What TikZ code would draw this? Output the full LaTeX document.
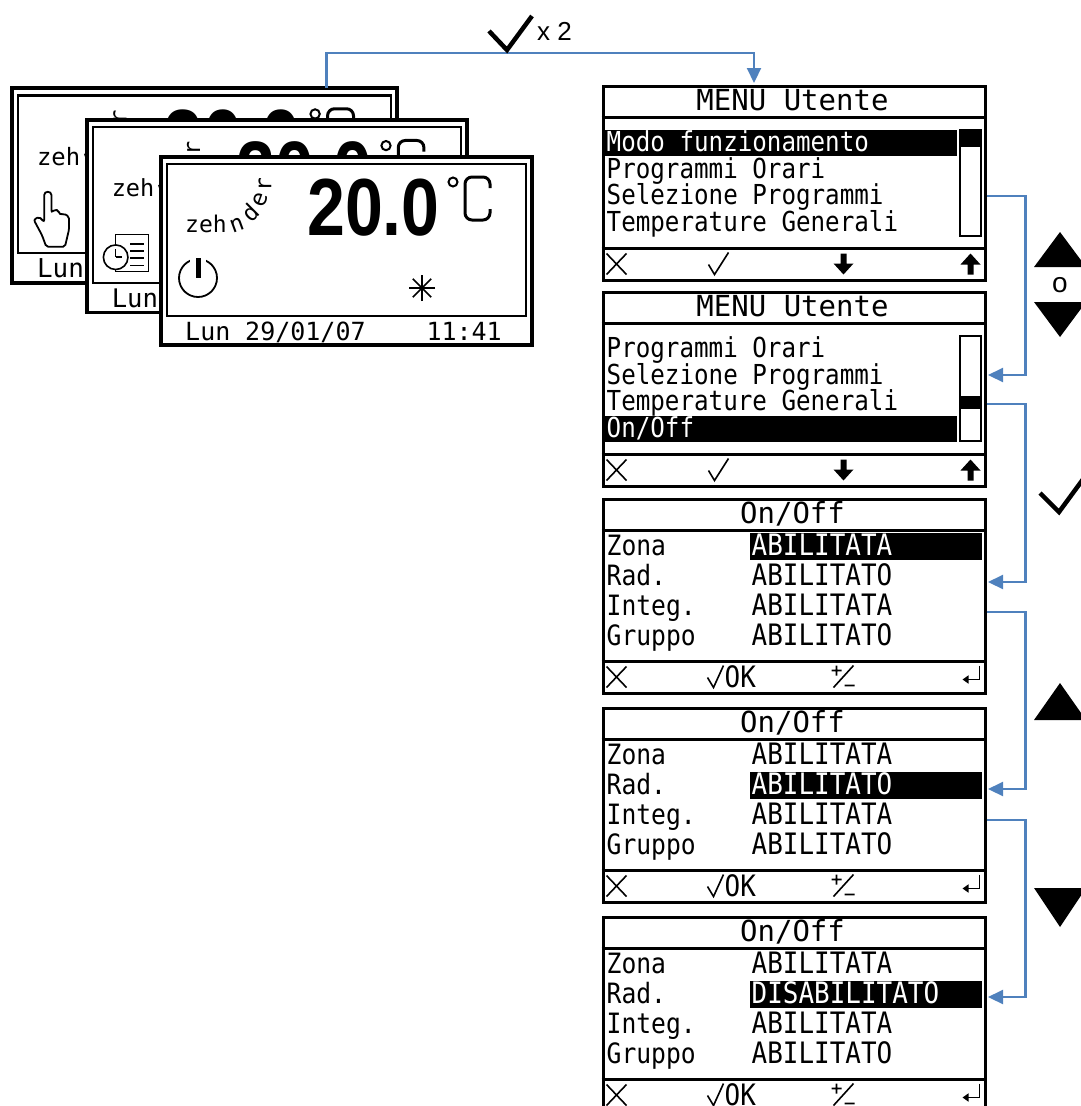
\documentclass[tikz,border=0pt]{standalone}
\usepackage{fontspec}
\setmainfont{Liberation Sans}
\newfontfamily\lcd{DejaVu Sans Mono}
\newfontfamily\lcdn{DejaVu Sans Mono}[FakeStretch=0.88]
\usetikzlibrary{arrows.meta}
\definecolor{linkblue}{RGB}{79,129,189}

\begin{document}
\begin{tikzpicture}[x=1pt, y=-1pt,
  lcdbox/.style={draw, line width=3pt, fill=white, minimum width=382pt, minimum height=194pt, inner sep=0pt},
  sepline/.style={line width=2.5pt},
  glyph/.style={line width=1.6pt},
  rowtext/.style={anchor=base west, inner sep=0pt, font={\lcdn\fontsize{27.5}{29}\selectfont}},
  lbltext/.style={anchor=base west, inner sep=0pt, font={\lcdn\fontsize{28}{30}\selectfont}},
  valtext/.style={anchor=base west, inner sep=0pt, font={\lcdn\fontsize{29.5}{31}\selectfont}},
  titletext/.style={anchor=base, inner sep=0pt, font={\lcd\fontsize{29}{30}\selectfont}},
  datetext/.style={anchor=base west, inner sep=0pt, font={\lcd\fontsize{25}{27}\selectfont}},
  logo/.style={inner sep=0pt, font={\lcd\fontsize{23}{23}\selectfont}},
  link/.style={draw=linkblue, line width=2.2pt, -{Triangle[length=15pt,width=14pt]}, shorten >=1.5pt},
  ]

  \useasboundingbox (0,0) rectangle (1081,1106);

  % home screen, drawn from its top left corner
  \def\homescreen#1#2{%
    \draw[line width=3.5pt, fill=white] (0,0) rectangle (371,188);
    \draw[line width=2.5pt] (6,7) rectangle (365,159);
    \node[logo, anchor=base west] (#1zeh) at (24,75) {zeh};
    \node[logo, rotate=20] (#1n) at (76,68) {n};
    \node[logo, rotate=45] (#1d) at (89,56) {d};
    \node[logo, rotate=70] (#1e) at (99,43) {e};
    \node[logo, rotate=90] (#1r) at (104,28) {r};
    \node[anchor=base west, inner sep=0pt, font=\bfseries\fontsize{81}{81}\selectfont] (#1temp) at (146,78) {\scalebox{0.84}[1]{20.0}};
    \draw[line width=2pt] (292,25) circle (4.5);
    \draw[line width=3pt, rounded corners=7pt] (329,31) -- (329,20) -- (304,20) -- (304,63) -- (329,63) -- (329,52);
    #2
    \node[datetext] (#1day) at (24,183) {Lun};
  }

  % footers of the menu and of the On/Off screens
  \def\menufoot{%
    \draw[glyph] (5,169) -- (25,190) (5,190) -- (25,169);
    \draw[glyph] (107,180) -- (113,190) -- (127,168);
    \fill (239,169) rectangle (245,179) (232,179) -- (252,179) -- (242,190) -- cycle;
    \fill (366,180) rectangle (372,190) (359,180) -- (379,180) -- (369,169) -- cycle;
  }
  \def\onofffoot#1{%
    \draw[glyph] (5,169) -- (25,190) (5,190) -- (25,169);
    \draw[glyph] (106,180) -- (112,190) -- (122,168);
    \node[valtext] (#1ok) at (123,190) {OK};
    \draw[glyph] (230,173) -- (240,173) (235,168) -- (235,178) (232,190) -- (252,168) (243,188) -- (253,188);
    \draw[glyph, -{Triangle[length=6pt,width=8pt]}] (378,168) -- (378,182) -- (361,182);
  }
  \def\onoff#1#2#3{%
    \draw[sepline] (0,33) -- (382,33) (0,164) -- (382,164);
    \node[titletext] (#1t) at (191,26) {On/Off};
    \fill (148,5+30*#2) rectangle (380,32+30*#2);
    \foreach \lab [count=\i] in {Zona,Rad.,Integ.,Gruppo}
      \node[lbltext] (#1l\i) at (5,28+30*\i) {\lab};
    \foreach \val [count=\i] in {ABILITATA,#3,ABILITATA,ABILITATO}{
      \ifnum\i=#2 \def\vcol{white}\else\def\vcol{black}\fi
      \node[valtext, text=\vcol] (#1v\i) at (150,28+30*\i) {\val};
    }
    \onofffoot{#1}
  }

  \begin{scope}[shift={(12,88)}, scale=1.038, transform shape]
    \homescreen{back}{\draw[line width=1.8pt, rounded corners=2pt, shift={(38,127)}] (-7,-22) -- (-7,2) -- (-12,-3) -- (-17,0) -- (-9,15) -- (-5,26) -- (13,26) -- (17,9) -- (17,-3) -- (12,-6) -- (8,-5) -- (7,-9) -- (3,-10) -- (0,-7) -- (0,-22) .. controls (0,-28) and (-7,-28) .. (-7,-22) -- cycle;}
    \coordinate (backout) at (303,0);
  \end{scope}

  \begin{scope}[shift={(87,120)}, scale=1.024, transform shape]
    \homescreen{mid}{%
      \draw[glyph] (28,112) rectangle (60,148);
      \foreach \yy in {121,128,135,142}
        \draw[glyph] (42,\yy) -- (56,\yy);
      \draw[glyph, fill=white] (28,134) circle (12);
      \draw[glyph] (28,134) -- (28,126) (28,134) -- (34,134);}
  \end{scope}

  \begin{scope}[shift={(161,157)}]
    \homescreen{front}{%
      \draw[line width=1.8pt] (37,121) circle (19);
      \fill[white] (29,99) rectangle (45,108);
      \draw[line width=5pt] (37,101) -- (37,121);
      \foreach \ang in {0,45,90,135}
        \draw[glyph] (261,131) +(\ang:13) -- +(\ang+180:13);}
    \node[datetext] (frontdate) at (84,183) {29/01/07};
    \node[datetext, anchor=base east] (fronttime) at (341,183) {11:41};
  \end{scope}

  % menu screens
  \node[lcdbox] (m1) at (794,183) {};
  \begin{scope}[shift={(m1.north west)}]
    \draw[sepline] (0,33) -- (382,33) (0,164) -- (382,164);
    \node[titletext] (m1t) at (191,26) {MENU Utente};
    \fill (3,45) rectangle (355,71);
    \node[rowtext, text=white] (m1r1) at (5,67) {Modo funzionamento};
    \node[rowtext] (m1r2) at (5,94) {Programmi Orari};
    \node[rowtext] (m1r3) at (5,120) {Selezione Programmi};
    \node[rowtext] (m1r4) at (5,147) {Temperature Generali};
    \draw[line width=2pt] (358,45) rectangle (379,151);
    \fill (358,45) rectangle (379,62);
    \menufoot
  \end{scope}

  \node[lcdbox] (m2) at (794,389) {};
  \begin{scope}[shift={(m2.north west)}]
    \draw[sepline] (0,33) -- (382,33) (0,164) -- (382,164);
    \node[titletext] (m2t) at (191,26) {MENU Utente};
    \node[rowtext] (m2r1) at (5,67) {Programmi Orari};
    \node[rowtext] (m2r2) at (5,94) {Selezione Programmi};
    \node[rowtext] (m2r3) at (5,120) {Temperature Generali};
    \fill (3,125) rectangle (355,151);
    \node[rowtext, text=white] (m2r4) at (5,147) {On/Off};
    \draw[line width=2pt] (358,45) rectangle (379,150);
    \fill (358,105) rectangle (379,118);
    \menufoot
  \end{scope}

  % On/Off screens
  \node[lcdbox] (o1) at (794,596) {};
  \begin{scope}[shift={(o1.north west)}]
    \onoff{o1}{1}{ABILITATO}
  \end{scope}
  \node[lcdbox] (o2) at (794,805) {};
  \begin{scope}[shift={(o2.north west)}]
    \onoff{o2}{2}{ABILITATO}
  \end{scope}
  \node[lcdbox] (o3) at (794,1014) {};
  \begin{scope}[shift={(o3.north west)}]
    \onoff{o3}{2}{DISABILITATO}
  \end{scope}

  % connectors
  \draw[link] (backout) -- ++(0,-35) -| ([xshift=-40pt]m1.north);
  \draw[line width=4.5pt] (489,31) -- (507,50) -- (532,16);
  \node[anchor=base west, inner sep=0pt, font=\fontsize{26}{28}\selectfont] (twice) at (537,40) {x 2};

  \draw[link] ([yshift=-13pt]m1.east) -- ++(39,0) |- ([yshift=14pt]m2.east);
  \draw[link] ([yshift=-15pt]m2.east) -- ++(39,0) |- ([yshift=14pt]o1.east);
  \draw[link] ([yshift=-16pt]o1.east) -- ++(39,0) |- ([yshift=16pt]o2.east);
  \draw[link] ([yshift=-15pt]o2.east) -- ++(39,0) |- ([yshift=17pt]o3.east);

  % keys
  \fill (1034,267) -- (1060,232) -- (1086,267) -- cycle;
  \node[inner sep=0pt, font=\fontsize{28}{30}\selectfont] (orsign) at (1060,285) {o};
  \fill (1034,302) -- (1086,302) -- (1060,337) -- cycle;
  \draw[line width=4.5pt] (1040,493) -- (1059,512) -- (1092,467);
  \fill (1034,720) -- (1060,683) -- (1086,720) -- cycle;
  \fill (1034,888) -- (1086,888) -- (1060,927) -- cycle;

\end{tikzpicture}
\end{document}
